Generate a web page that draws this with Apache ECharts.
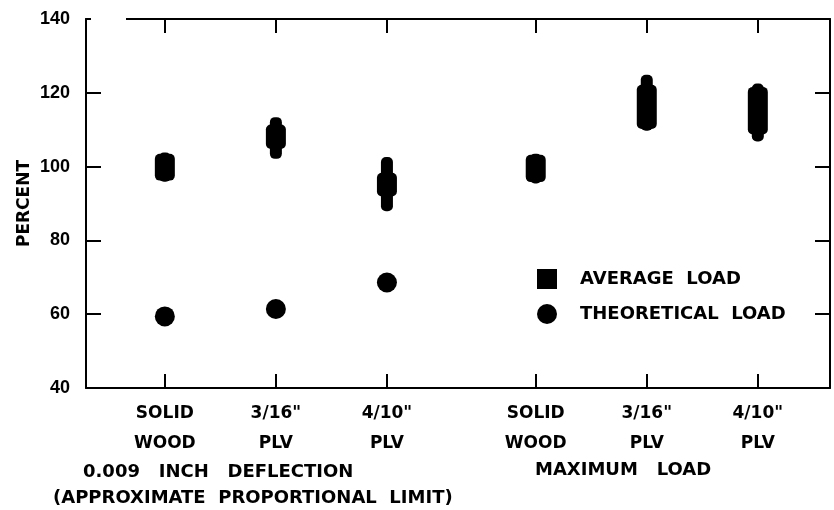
<!DOCTYPE html>
<html>
<head>
<meta charset="utf-8">
<script src="https://cdn.jsdelivr.net/npm/echarts@6/dist/echarts.min.js"></script>
<style>html,body{margin:0;padding:0;background:#fff}#c{width:834px;height:510px}</style>
</head>
<body>
<div id="c"></div>
<script>
// ---- data ----
const categories = ['SOLID\nWOOD', '3/16"\nPLV', '4/10"\nPLV', 'SOLID\nWOOD', '3/16"\nPLV', '4/10"\nPLV'];
const xPositions = [1, 2, 3, 4.34, 5.34, 6.34];
const avgLoad  = [99.8, 108.0, 95.1, 99.4, 117.3, 114.6];
const avgLow   = [95.9, 102.1, 87.9, 95.4, 109.7, 106.8];
const avgHigh  = [103.8, 113.4, 102.6, 103.5, 124.9, 122.5];
const bodyLow  = [96.2, 104.8, 91.9, 95.8, 110.2, 108.7];
const bodyHigh = [103.5, 111.4, 98.3, 103.2, 122.2, 121.6];
const theoLoad = [59.4, 61.4, 68.6];
const yTicks = [40, 60, 80, 100, 120, 140];
const groupTitles = ['0.009   INCH   DEFLECTION', '(APPROXIMATE  PROPORTIONAL  LIMIT)', 'MAXIMUM   LOAD'];

const FONT = 'DejaVu Sans';
const chart = echarts.init(document.getElementById('c'), null, {renderer: 'canvas'});

const avgData = xPositions.map((x, i) => [x, avgLow[i], avgHigh[i], bodyLow[i], bodyHigh[i], avgLoad[i]]);
const theoData = theoLoad.map((v, i) => [xPositions[i], v]);

const labelMap = {};
xPositions.forEach((x, i) => { labelMap[x] = categories[i]; });

const axisLineStyle = {color: '#000', width: 2};
const tickStyle = {color: '#000', width: 2};

chart.setOption({
  animation: false,
  backgroundColor: '#fff',
  grid: {left: 86, right: 4, top: 19, bottom: 122, containLabel: false},
  legend: {
    orient: 'vertical', left: 537, top: 269, padding: 0, itemWidth: 20, itemHeight: 20, itemGap: 15,
    textStyle: {fontFamily: FONT, fontWeight: 'bold', fontSize: 18, color: '#000', padding: [0, 0, 0, 18]},
    data: [{name: 'AVERAGE  LOAD', icon: 'rect'}, {name: 'THEORETICAL  LOAD', icon: 'circle'}]
  },
  xAxis: [{
    type: 'value', min: 0.29, max: 6.99, position: 'bottom',
    splitLine: {show: false},
    axisLine: {show: true, lineStyle: axisLineStyle},
    axisTick: {show: true, inside: true, length: 14, lineStyle: tickStyle, customValues: xPositions},
    axisLabel: {
      customValues: xPositions, margin: 11,
      formatter: v => labelMap[v] || '',
      fontFamily: FONT, fontWeight: 'bold', fontSize: 17, color: '#000', lineHeight: 30
    }
  }, {
    type: 'value', min: 0.29, max: 6.99, position: 'top',
    splitLine: {show: false},
    axisLine: {show: true, lineStyle: axisLineStyle},
    axisTick: {show: true, inside: true, length: 14, lineStyle: tickStyle, customValues: xPositions},
    axisLabel: {show: false}
  }],
  yAxis: [{
    type: 'value', min: 40, max: 140, interval: 20, position: 'left',
    name: 'PERCENT', nameLocation: 'middle', nameRotate: 90, nameGap: 53, nameMoveOverlap: false,
    nameTextStyle: {fontFamily: FONT, fontWeight: 'bold', fontSize: 17, color: '#000'},
    splitLine: {show: false},
    axisLine: {show: true, lineStyle: axisLineStyle},
    axisTick: {show: true, inside: true, length: 15, lineStyle: tickStyle},
    axisLabel: {margin: 16, fontFamily: 'Liberation Sans', fontWeight: 'bold', fontSize: 18, color: '#000',
      formatter: v => yTicks.includes(v) ? String(v) : ''}
  }, {
    type: 'value', min: 40, max: 140, interval: 20, position: 'right',
    splitLine: {show: false},
    axisLine: {show: true, lineStyle: axisLineStyle},
    axisTick: {show: true, inside: true, length: 15, lineStyle: tickStyle},
    axisLabel: {show: false}
  }],
  series: [{
    name: 'AVERAGE  LOAD', type: 'custom', xAxisIndex: 0, yAxisIndex: 0,
    itemStyle: {color: '#000', opacity: 1},
    data: avgData,
    encode: {x: 0, y: [1, 2, 3, 4]},
    renderItem: function (params, api) {
      const x = api.value(0);
      const lo = api.coord([x, api.value(1)]);
      const hi = api.coord([x, api.value(2)]);
      const bl = api.coord([x, api.value(3)]);
      const bh = api.coord([x, api.value(4)]);
      return {
        type: 'group',
        children: [{
          type: 'rect',
          shape: {x: lo[0] - 6, y: hi[1], width: 12, height: lo[1] - hi[1], r: 5},
          style: {fill: '#000'}
        }, {
          type: 'rect',
          shape: {x: bl[0] - 10, y: bh[1], width: 20, height: bl[1] - bh[1], r: 5},
          style: {fill: '#000'}
        }]
      };
    }
  }, {
    name: 'THEORETICAL  LOAD', type: 'scatter', xAxisIndex: 0, yAxisIndex: 0,
    symbol: 'circle', symbolSize: 20,
    itemStyle: {color: '#000', opacity: 1},
    data: theoData
  }],
  graphic: [
    {type: 'rect', left: 91, top: 17, shape: {width: 35, height: 5}, style: {fill: '#fff'}, z: 100},
    {type: 'text', left: 83, top: 463, style: {text: groupTitles[0], font: 'bold 18px "DejaVu Sans"', fill: '#000'}},
    {type: 'text', left: 53, top: 489, style: {text: groupTitles[1], font: 'bold 18px "DejaVu Sans"', fill: '#000'}},
    {type: 'text', left: 535, top: 461, style: {text: groupTitles[2], font: 'bold 18px "DejaVu Sans"', fill: '#000'}}
  ]
});
</script>
</body>
</html>
